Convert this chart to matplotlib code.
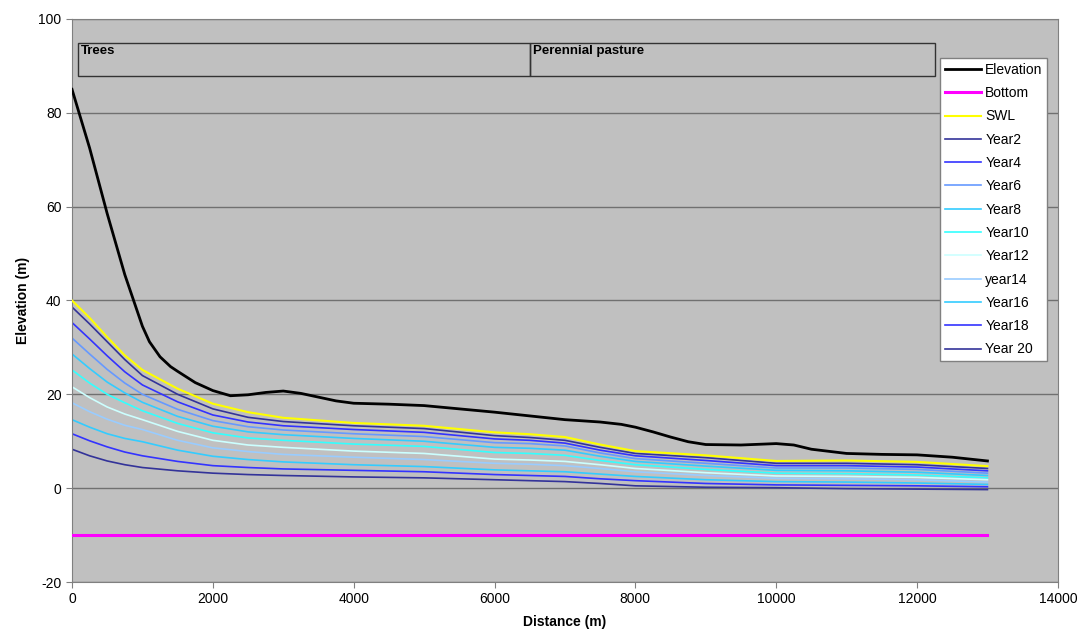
import matplotlib
matplotlib.use('Agg')
import matplotlib.pyplot as plt
from matplotlib.patches import Rectangle

plt.rcParams['font.family']=['Liberation Sans','DejaVu Sans']
plt.rcParams['axes.unicode_minus']=False

# ground surface profile
elev_x=[0,250,500,750,1000,1100,1250,1400,1500,1750,2000,2250,2500,2750,3000,3250,3500,3750,4000,4500,5000,5500,6000,6500,7000,7500,7800,8000,8250,8500,8750,9000,9500,10000,10250,10500,11000,11500,12000,12500,13000]
elevation=[85,72.5,58.5,45.5,34.5,31.2,28.0,25.9,24.9,22.5,20.8,19.7,19.9,20.4,20.7,20.2,19.4,18.6,18.1,17.9,17.6,16.9,16.2,15.4,14.6,14.1,13.6,13.0,12.0,10.9,9.9,9.3,9.2,9.5,9.2,8.3,7.4,7.2,7.1,6.6,5.8]

# water table profiles
wt_x=[0,250,500,750,1000,1500,2000,2500,3000,4000,5000,6000,6500,7000,7500,8000,9000,10000,11000,12000,13000]
swl=[40.0,36.3,32.2,28.3,25.2,21.2,18.0,16.2,15.0,13.9,13.3,11.9,11.5,10.9,9.3,7.9,7.0,5.8,5.9,5.6,4.7]
year_names=['Year2','Year4','Year6','Year8','Year10','Year12','year14','Year16','Year18','Year 20']
year_levels=[
    [38.6,35.0,31.2,27.4,24.0,20.0,16.9,15.1,14.2,13.3,12.7,11.2,10.8,10.2,8.7,7.4,6.5,5.3,5.3,5.0,4.2],
    [35.3,31.8,28.2,24.8,22.0,18.4,15.6,14.1,13.3,12.5,11.9,10.5,10.2,9.6,8.1,6.9,5.9,4.8,4.8,4.5,3.7],
    [32.0,28.6,25.3,22.4,20.0,16.8,14.4,13.1,12.4,11.6,11.0,9.7,9.5,9.0,7.5,6.3,5.3,4.3,4.3,4.0,3.2],
    [28.6,25.5,22.6,20.3,18.3,15.3,13.2,12.0,11.4,10.6,10.0,8.7,8.5,8.1,6.8,5.7,4.7,3.8,3.7,3.4,2.7],
    [25.2,22.4,20.0,18.2,16.5,13.8,11.8,10.7,10.2,9.4,8.9,7.6,7.4,7.0,5.9,5.0,4.0,3.2,3.1,2.8,2.2],
    [21.6,19.3,17.3,15.8,14.6,12.1,10.2,9.2,8.7,7.9,7.4,6.2,6.0,5.7,5.0,4.2,3.3,2.6,2.5,2.3,1.8],
    [18.2,16.3,14.7,13.4,12.5,10.2,8.6,7.8,7.2,6.6,6.1,5.3,5.1,4.8,4.2,3.5,2.7,2.1,2.0,1.8,1.3],
    [14.6,13.0,11.6,10.6,9.9,8.1,6.8,6.1,5.6,5.0,4.6,3.9,3.7,3.5,3.0,2.5,1.8,1.4,1.3,1.1,0.8],
    [11.6,10.1,8.8,7.7,6.9,5.7,4.8,4.4,4.1,3.8,3.5,2.9,2.7,2.5,2.0,1.6,1.0,0.7,0.6,0.5,0.3],
    [8.3,6.9,5.8,5.0,4.4,3.7,3.2,2.9,2.7,2.4,2.2,1.8,1.6,1.4,1.0,0.5,0.2,0.1,-0.1,-0.2,-0.3],
]
year_colors=['#333399','#3333ff','#6699ff','#33ccff','#33ffff','#ccffff','#99ccff','#33ccff','#3333ff','#333399']

bottom_x=[0,13000]; bottom=[-10,-10]

# land use zones along the transect
zones=[('Trees',80,6500),('Perennial pasture',6500,12250)]
zone_y=(87.8,94.9)

fig=plt.figure(figsize=(10.81,6.37),dpi=100)
ax=fig.add_axes([0.0666,0.0863,0.912,0.884])
ax.set_facecolor('#c0c0c0')
ax.plot(elev_x,elevation,color='black',lw=2.0,label='Elevation',zorder=4)
ax.plot(bottom_x,bottom,color='#ff00ff',lw=2.2,label='Bottom',zorder=3)
ax.plot(wt_x,swl,color='#ffff00',lw=1.5,label='SWL',zorder=3)
for name,lev,c in zip(year_names,year_levels,year_colors):ax.plot(wt_x,lev,color=c,lw=1.2,label=name,zorder=2)

for name,x0,x1 in zones:
    ax.add_patch(Rectangle((x0,zone_y[0]),x1-x0,zone_y[1]-zone_y[0],fill=False,edgecolor='#333333',lw=1.0,zorder=5))
    ax.text(x0+50,zone_y[1]-0.5,name,fontsize=9.5,fontweight='bold',va='top',ha='left',zorder=6)

ax.set_xlim(0,14000); ax.set_ylim(-20,100)
ax.set_xticks(range(0,14001,2000)); ax.set_yticks(range(-20,101,20))
ax.yaxis.grid(True,color='#707070',lw=1.0); ax.set_axisbelow(True)
for s in ax.spines.values():s.set_color('#808080')
ax.tick_params(colors='#808080',labelcolor='black',labelsize=10,length=4,direction='out')
ax.set_xlabel('Distance (m)',fontsize=10,fontweight='bold',labelpad=6)
ax.set_ylabel('Elevation (m)',fontsize=10,fontweight='bold',labelpad=6)

leg=ax.legend(loc='upper left',bbox_to_anchor=(0.8696,0.909),bbox_transform=fig.transFigure,fontsize=10,frameon=True,fancybox=False,
              handlelength=2.6,handletextpad=0.3,labelspacing=0.67,borderpad=0.35,borderaxespad=0)
leg.get_frame().set_edgecolor('#808080'); leg.get_frame().set_facecolor('white'); leg.get_frame().set_alpha(1)
fig.savefig('out.png',dpi=100)
